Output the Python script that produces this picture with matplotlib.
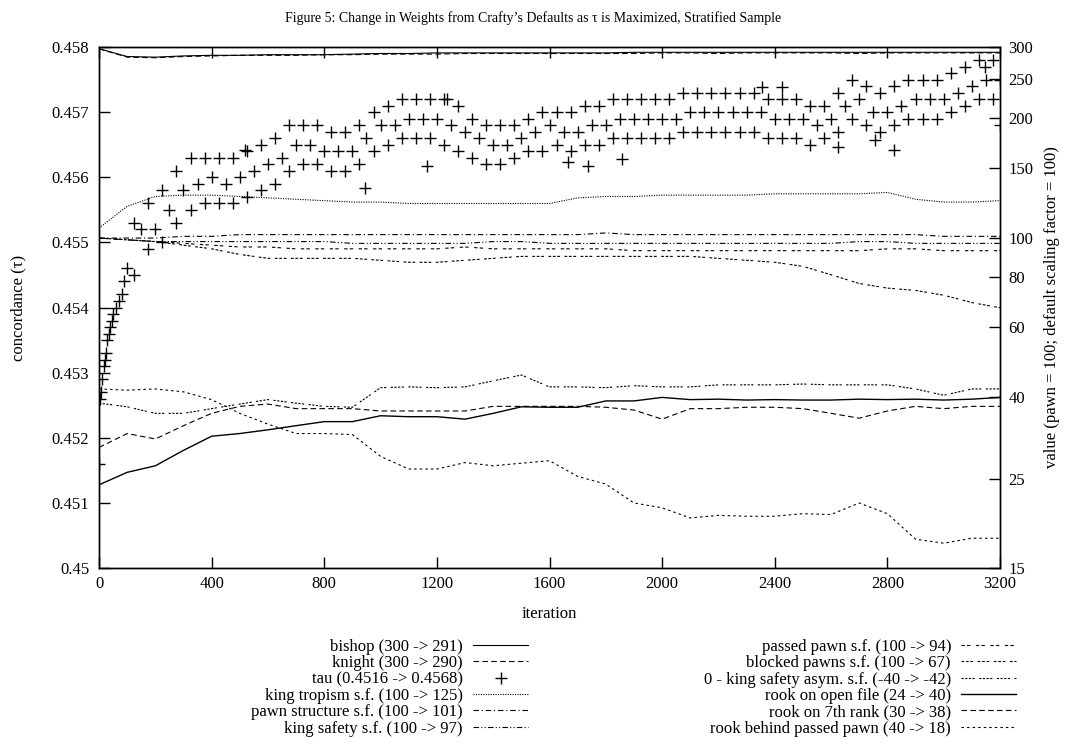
import numpy as np
import matplotlib
matplotlib.use("Agg")
import matplotlib.pyplot as plt
from matplotlib.ticker import NullLocator

plt.rcParams.update({"font.family": ["Liberation Serif", "DejaVu Serif"],
                     "font.size": 12, "axes.linewidth": 1.0})

# ---- data ---------------------------------------------------------------
iters = list(range(0, 3201, 100))

bishop = [297, 284, 283, 285, 286, 286, 287, 287, 287, 288, 289, 289, 290, 290, 290, 290, 290,
          290, 290, 291, 291, 291, 291, 291, 291, 291, 291, 291, 291, 291, 291, 291, 291]
knight = [297, 283, 282, 284, 285, 286, 286, 286, 287, 287, 288, 288, 288, 289, 289, 289, 289,
          289, 289, 289, 290, 290, 289, 290, 290, 290, 290, 289, 290, 290, 290, 290, 290]
king_tropism = [106, 120, 127, 128, 128, 127, 126, 125, 124, 123, 123, 122, 122, 122, 122, 122, 122,
                126, 127, 127, 128, 128, 128, 128, 129, 129, 129, 129, 130, 125, 123, 123, 124]
pawn_structure = [100, 100, 100, 101, 101, 102, 102, 102, 102, 102, 102, 102, 102, 102, 102, 102, 102,
                  102, 103, 102, 102, 102, 102, 102, 102, 102, 102, 102, 102, 102, 101, 101, 101]
king_safety = [100, 99, 98, 98, 98, 98, 98, 98, 98, 97, 97, 97, 97, 97, 98, 98, 97,
               97, 97, 97, 97, 97, 97, 97, 97, 97, 97, 98, 98, 97, 97, 97, 97]
passed_pawn = [100, 99, 98, 97, 96, 95, 95, 94, 94, 94, 94, 94, 94, 95, 94, 94, 94,
               94, 94, 93, 93, 93, 93, 93, 93, 93, 93, 93, 94, 94, 93, 93, 93]
blocked_pawns = [100, 99, 98, 96, 94, 91, 89, 89, 89, 89, 88, 87, 87, 88, 89, 90, 90,
                 90, 90, 90, 90, 90, 89, 88, 87, 85, 81, 77, 75, 74, 72, 69, 67]
ks_asym = [38.7, 37.9, 36.5, 36.5, 37.5, 38.5, 39.5, 38.7, 38, 37.8, 42.3, 42.5, 42.3, 42.5, 44, 45.5, 42.5,
           42.5, 42.3, 42.8, 42.5, 42.5, 43, 43, 43, 43.2, 43, 43, 43, 42, 40.5, 42, 42]
rook_open = [24.2, 26, 27, 29.5, 32, 32.5, 33.2, 34, 34.8, 34.8, 36, 35.8, 35.8, 35.3, 36.5, 37.9, 37.8,
             37.8, 39.2, 39.2, 40, 39.5, 39.6, 39.4, 39.5, 39.4, 39.4, 39.6, 39.5, 39.6, 39.4, 39.6, 40]
rook_7th = [30, 32.5, 31.5, 34, 36.5, 38, 38.5, 37.5, 37.5, 37.5, 37, 37, 37, 37, 38, 38, 38,
            38, 37.8, 37.2, 35.3, 37.5, 37.5, 37.8, 37.8, 37.5, 36.5, 35.5, 37, 38, 37.5, 38, 38]
rook_behind = [42, 41.7, 42, 41.3, 39.5, 36.5, 34.3, 32.5, 32.5, 32.3, 28.5, 26.5, 26.5, 27.5, 27, 27.4, 27.8,
               25.4, 24.3, 21.8, 21.2, 20, 20.3, 20.2, 20.2, 20.5, 20.4, 21.8, 20.5, 17.7, 17.3, 17.8, 17.8]

# tau (left axis): early ramp, band centre, band edges and stray points
ramp_iter = [0, 4, 8, 12, 16, 20, 25, 30, 35, 40, 45, 50, 60, 70, 80, 90]
ramp_tau = [0.4516, 0.4526, 0.4527, 0.4529, 0.4531, 0.4532, 0.4533, 0.4535, 0.4536, 0.4537,
            0.4538, 0.4539, 0.4540, 0.4541, 0.4542, 0.4544]
mid_iter = list(range(100, 3201, 50))
tau_mid = [0.4546, 0.4552, 0.4552, 0.4555, 0.4558, 0.4559, 0.4560, 0.4559, 0.4560, 0.4561,
           0.4562, 0.4563, 0.4565, 0.4565, 0.4564, 0.4564, 0.4564, 0.4566, 0.4568, 0.4568,
           0.4569, 0.4569, 0.4569, 0.4568, 0.4567, 0.4566, 0.4565, 0.4565, 0.4566, 0.4567,
           0.4568, 0.4567, 0.4567, 0.4568, 0.4568, 0.4569, 0.4569, 0.4569, 0.4569, 0.4569,
           0.4570, 0.4570, 0.4570, 0.4570, 0.4570, 0.4570, 0.4569, 0.4569, 0.4569, 0.4568,
           0.4569, 0.4571, 0.4572, 0.4570, 0.4570, 0.4571, 0.4572, 0.4572, 0.4572, 0.4573,
           0.4574, 0.4575, 0.4575]
edge_iter = list(range(125, 3200, 50))
tau_hi = [0.4553, 0.4556, 0.4558, 0.4561, 0.4563, 0.4563, 0.4563, 0.4563, 0.4564, 0.4565,
          0.4566, 0.4568, 0.4568, 0.4568, 0.4567, 0.4567, 0.4568, 0.4570, 0.4571, 0.4572,
          0.4572, 0.4572, 0.4572, 0.4571, 0.4569, 0.4568, 0.4568, 0.4568, 0.4569, 0.4570,
          0.4570, 0.4570, 0.4571, 0.4571, 0.4572, 0.4572, 0.4572, 0.4572, 0.4572, 0.4573,
          0.4573, 0.4573, 0.4573, 0.4573, 0.4573, 0.4572, 0.4572, 0.4572, 0.4571, 0.4571,
          0.4573, 0.4575, 0.4574, 0.4573, 0.4574, 0.4575, 0.4575, 0.4575, 0.4576, 0.4577,
          0.4578, 0.4578]
tau_lo = [0.4545, 0.4549, 0.4550, 0.4553, 0.4555, 0.4556, 0.4556, 0.4556, 0.4557, 0.4558,
          0.4559, 0.4561, 0.4562, 0.4562, 0.4561, 0.4561, 0.4562, 0.4564, 0.4565, 0.4566,
          0.4566, 0.4566, 0.4565, 0.4564, 0.4563, 0.4562, 0.4562, 0.4563, 0.4564, 0.4564,
          0.4565, 0.4564, 0.4565, 0.4565, 0.4566, 0.4566, 0.4566, 0.4566, 0.4566, 0.4567,
          0.4567, 0.4567, 0.4567, 0.4567, 0.4567, 0.4566, 0.4566, 0.4566, 0.4565, 0.4566,
          0.4567, 0.4569, 0.4568, 0.4567, 0.4568, 0.4569, 0.4569, 0.4569, 0.4570, 0.4571,
          0.4572, 0.4572]
stray_iter = [518, 945, 1165, 1236, 1666, 1737, 1857, 2354, 2425, 2624, 2756, 2823, 3146, 3200]
stray_tau = [0.45642, 0.45583, 0.45617, 0.45720, 0.45623, 0.45617, 0.45628, 0.45739, 0.45739,
             0.45647, 0.45657, 0.45642, 0.45770, 0.45680]

title = "Figure 5: Change in Weights from Crafty\u2019s Defaults as \u03c4 is Maximized, Stratified Sample"

# ---- figure ---------------------------------------------------------------
fig = plt.figure(figsize=(10.66, 7.5), dpi=100)
ax = fig.add_axes([99 / 1066, 1 - 568 / 750, 901 / 1066, 521 / 750])
ax2 = ax.twinx()
ax.set_zorder(ax2.get_zorder() + 1)
ax.patch.set_visible(False)

lw = 0.8
k = "black"
styles = {
    "bishop": "-", "knight": (0, (5, 3)), "king_tropism": (0, (1, 1.2)),
    "pawn_structure": (0, (5, 2.5, 1, 2.5)), "king_safety": (0, (5, 2, 1, 2, 1, 2)),
    "passed_pawn": (0, (3, 2, 3, 5)), "blocked": (0, (2.5, 1.5, 2.5, 1.5, 2.5, 4)),
    "asym": (0, (2, 1.3, 2, 1.3, 2, 1.3, 2, 4)), "rook_open": "-", "rook_7th": (0, (5, 3)),
    "rook_behind": (0, (2.2, 2.8)),
}

h = {}
h["bishop"], = ax2.plot(iters, bishop, color=k, lw=lw, ls=styles["bishop"])
h["knight"], = ax2.plot(iters, knight, color=k, lw=lw, ls=styles["knight"])
h["king_tropism"], = ax2.plot(iters, king_tropism, color=k, lw=lw, ls=styles["king_tropism"])
h["pawn_structure"], = ax2.plot(iters, pawn_structure, color=k, lw=lw, ls=styles["pawn_structure"])
h["king_safety"], = ax2.plot(iters, king_safety, color=k, lw=lw, ls=styles["king_safety"])
h["passed_pawn"], = ax2.plot(iters, passed_pawn, color=k, lw=lw, ls=styles["passed_pawn"])
h["blocked"], = ax2.plot(iters, blocked_pawns, color=k, lw=lw, ls=styles["blocked"])
h["asym"], = ax2.plot(iters, ks_asym, color=k, lw=lw, ls=styles["asym"])
h["rook_open"], = ax2.plot(iters, rook_open, color=k, lw=1.0, ls=styles["rook_open"])
h["rook_7th"], = ax2.plot(iters, rook_7th, color=k, lw=lw, ls=styles["rook_7th"])
h["rook_behind"], = ax2.plot(iters, rook_behind, color=k, lw=lw, ls=styles["rook_behind"])

mk = dict(ls="none", marker="+", color=k, ms=9, mew=1.0)
h["tau"], = ax.plot(mid_iter, tau_mid, **mk)
ax.plot(ramp_iter, ramp_tau, **mk)
ax.plot(edge_iter, tau_hi, **mk)
ax.plot(edge_iter, tau_lo, **mk)
ax.plot(stray_iter, stray_tau, **mk)

# axes
ax.set_xlim(0, 3200)
ax.set_ylim(0.45, 0.458)
ax.set_xticks(range(0, 3201, 400))
ax.set_yticks(np.arange(0.45, 0.4581, 0.001))
ax.set_yticklabels(["0.45", "0.451", "0.452", "0.453", "0.454", "0.455", "0.456", "0.457", "0.458"])
ax.tick_params(axis="both", direction="in", length=8, width=1, labelsize=12)
ax.tick_params(axis="x", top=True, pad=6)
ax.tick_params(axis="y", right=False, pad=7)
ax.set_xlabel("iteration", fontsize=12, labelpad=10)
ax.set_ylabel("concordance (\u03c4)", fontsize=12, labelpad=18)

ax2.set_yscale("log")
ax2.set_ylim(15, 300)
r_ticks = [15, 25, 40, 60, 80, 100, 150, 200, 250, 300]
ax2.set_yticks(r_ticks)
ax2.set_yticklabels([str(t) for t in r_ticks])
ax2.yaxis.set_minor_locator(NullLocator())
ax2.tick_params(axis="y", direction="in", length=8, width=1, labelsize=12, pad=6)
ax2.set_ylabel("value (pawn = 100; default scaling factor = 100)", fontsize=12, labelpad=8)

fig.text(0.5, 1 - 18 / 750, title, ha="center", va="center", fontsize=10)

# legend, two gnuplot-style columns (text right-aligned, sample on the right)
left_keys = ["bishop", "knight", "tau", "king_tropism", "pawn_structure", "king_safety"]
left_labels = ["bishop (300 -> 291)", "knight (300 -> 290)", "tau (0.4516 -> 0.4568)",
               "king tropism s.f. (100 -> 125)", "pawn structure s.f. (100 -> 101)",
               "king safety s.f. (100 -> 97)"]
right_keys = ["passed_pawn", "blocked", "asym", "rook_open", "rook_7th", "rook_behind"]
right_labels = ["passed pawn s.f. (100 -> 94)", "blocked pawns s.f. (100 -> 67)",
                "0 - king safety asym. s.f. (-40 -> -42)", "rook on open file (24 -> 40)",
                "rook on 7th rank (30 -> 38)", "rook behind passed pawn (40 -> 18)"]
leg_kw = dict(loc="upper right", frameon=False, markerfirst=False, handlelength=3.3,
              handletextpad=0.6, labelspacing=0.02, borderpad=0, borderaxespad=0,
              fontsize=12, numpoints=1)
fig.legend([h[x] for x in left_keys], left_labels,
           bbox_to_anchor=(528 / 1066, 1 - 639 / 750), **leg_kw)
fig.legend([h[x] for x in right_keys], right_labels,
           bbox_to_anchor=(1016 / 1066, 1 - 639 / 750), **leg_kw)

fig.savefig("out.png", dpi=100)
